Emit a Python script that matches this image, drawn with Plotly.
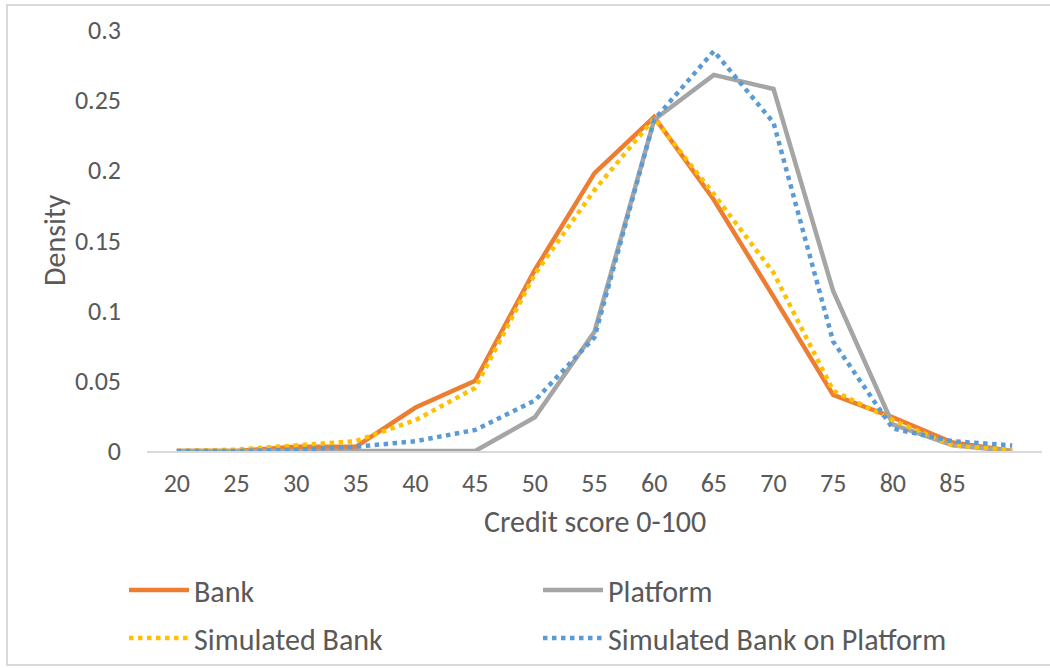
import plotly.graph_objects as go

# ---- data ----
scores = [20, 25, 30, 35, 40, 45, 50, 55, 60, 65, 70, 75, 80, 85, 90]
x_tick_vals = [20, 25, 30, 35, 40, 45, 50, 55, 60, 65, 70, 75, 80, 85]
x_tick_text = ["20", "25", "30", "35", "40", "45", "50", "55", "60", "65", "70", "75", "80", "85"]
y_tick_vals = [0, 0.05, 0.1, 0.15, 0.2, 0.25, 0.3]
y_tick_text = ["0", "0.05", "0.1", "0.15", "0.2", "0.25", "0.3"]

bank = [0, 0, 0.003, 0.003, 0.031, 0.050, 0.129, 0.198, 0.238, 0.179, 0.110, 0.040, 0.024, 0.006, 0.000]
platform = [0, 0, 0, 0, 0, 0, 0.024, 0.085, 0.236, 0.268, 0.258, 0.114, 0.019, 0.004, 0]
sim_bank = [0, 0.001, 0.004, 0.007, 0.022, 0.045, 0.126, 0.186, 0.237, 0.183, 0.127, 0.043, 0.022, 0.004, 0.001]
sim_bank_platform = [0, 0, 0.001, 0.003, 0.007, 0.015, 0.036, 0.081, 0.236, 0.285, 0.234, 0.078, 0.016, 0.007, 0.004]

FONT = "Calibri, Carlito, Lato, sans-serif"
TXT = "#595959"

fig = go.Figure()
fig.add_trace(go.Scatter(x=scores, y=bank, name="Bank", mode="lines", legend="legend",
                         line=dict(color="#ED7D31", width=4.5)))
fig.add_trace(go.Scatter(x=scores, y=platform, name="Platform", mode="lines", legend="legend",
                         line=dict(color="#A5A5A5", width=4.5)))
fig.add_trace(go.Scatter(x=scores, y=sim_bank, name="Simulated Bank", mode="lines", legend="legend2",
                         line=dict(color="#FFC000", width=4.5, dash="4.5px,4.5px")))
fig.add_trace(go.Scatter(x=scores, y=sim_bank_platform, name="Simulated Bank on Platform", mode="lines",
                         legend="legend2",
                         line=dict(color="#5B9BD5", width=4.5, dash="4.5px,4.5px")))

L, R, T, B = 147, 8, 30, 217
W, H = 1050, 668
pw, ph = W - L - R, H - T - B

def px(xp):
    return (xp - L) / pw

def py(yp):
    return (H - B - yp) / ph

leg_common = dict(orientation="h", xanchor="left", yanchor="middle",
                  entrywidth=339, entrywidthmode="pixels", itemwidth=60,
                  font=dict(family=FONT, size=30, color=TXT), bgcolor="rgba(0,0,0,0)")

fig.update_layout(
    width=W, height=H,
    margin=dict(l=L, r=R, t=T, b=B, autoexpand=False),
    paper_bgcolor="white", plot_bgcolor="white",
    font=dict(family=FONT, color=TXT, size=26),
    showlegend=True,
    legend=dict(x=px(124), y=py(590), **leg_common),
    legend2=dict(x=px(124), y=py(638), **leg_common),
    xaxis=dict(range=[17.5, 92.5], tickmode="array", tickvals=x_tick_vals, ticktext=x_tick_text,
               showgrid=False, zeroline=False, showline=True, linecolor="#D9D9D9", linewidth=1.5,
               ticks="", ticklabelstandoff=8, tickfont=dict(size=26, family=FONT, color=TXT)),
    yaxis=dict(range=[0, 0.3], tickmode="array", tickvals=y_tick_vals, ticktext=y_tick_text,
               showgrid=False, zeroline=False, showline=False, ticks="",
               ticklabelstandoff=25, tickfont=dict(size=26, family=FONT, color=TXT)),
    annotations=[
        dict(text="Density", x=px(54), y=py(240), xref="paper", yref="paper", textangle=-90,
             showarrow=False, font=dict(size=30, family=FONT, color=TXT), xanchor="center", yanchor="middle"),
        dict(text="Credit score 0-100", x=px(595), y=py(521), xref="paper", yref="paper",
             showarrow=False, font=dict(size=30, family=FONT, color=TXT), xanchor="center", yanchor="middle"),
    ],
    shapes=[dict(type="rect", xref="paper", yref="paper", x0=px(7), x1=px(1055), y0=py(665), y1=py(5),
                 line=dict(color="#D9D9D9", width=2), layer="below")],
)

fig.write_html("out.html")
